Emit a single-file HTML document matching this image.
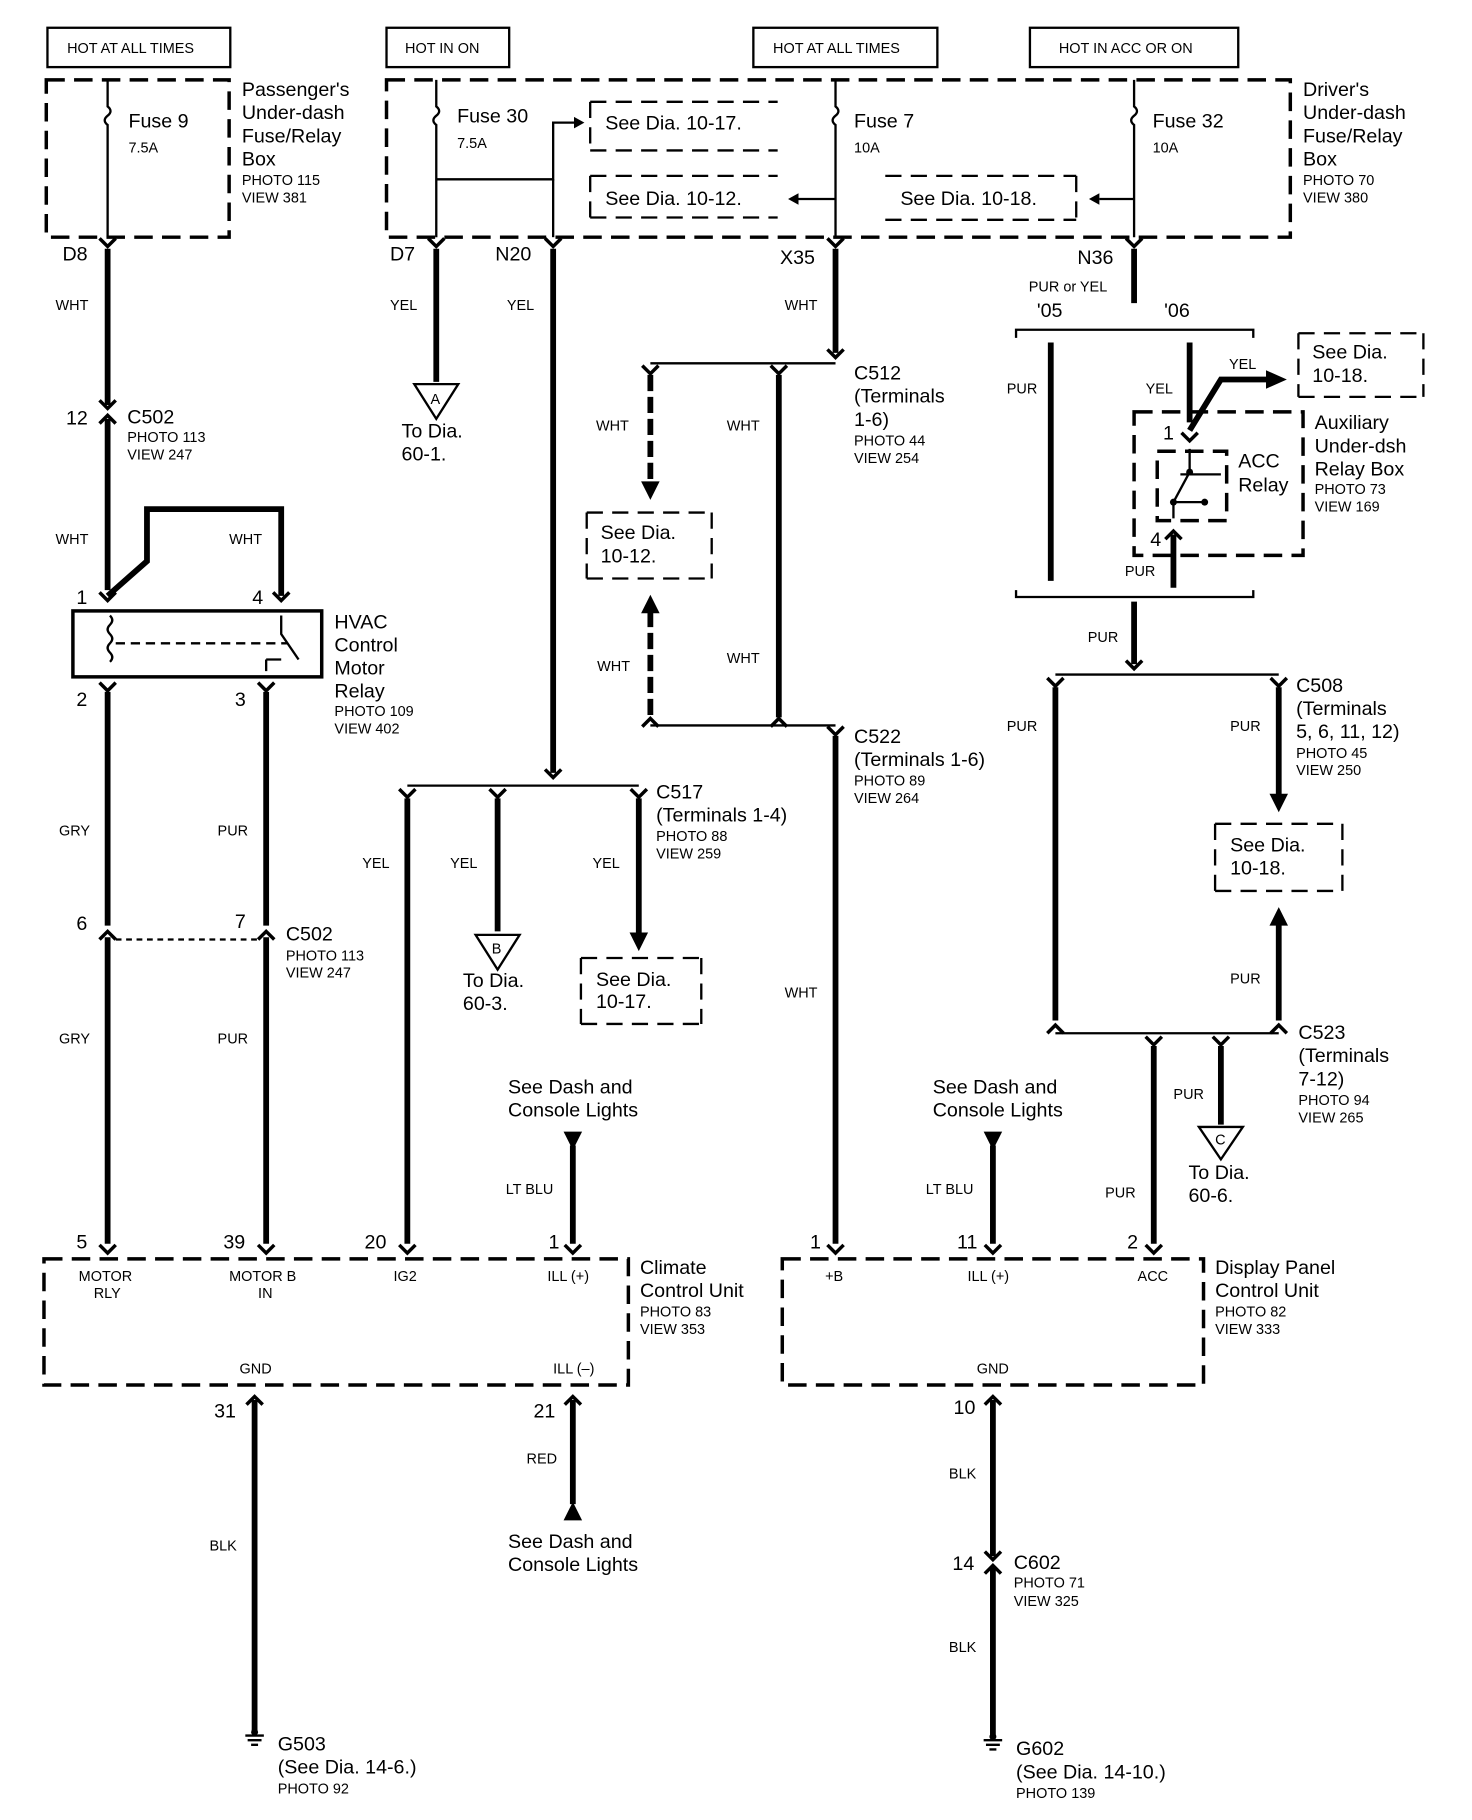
<!DOCTYPE html>
<html><head><meta charset="utf-8"><style>
html,body{margin:0;padding:0;background:#fff}
svg{display:block}
text{font-family:"Liberation Sans",Arial,sans-serif;fill:#000}
.b{font-size:17px}.s{font-size:12.5px}.w{font-size:12.5px}
.tk{stroke:#000;stroke-width:5;fill:none}
.tn{stroke:#000;stroke-width:2;fill:none}
.dsh{stroke:#000;stroke-width:3;fill:none;stroke-dasharray:16 8}
.dsh2{stroke:#000;stroke-width:2;fill:none;stroke-dasharray:14 8}
</style></head><body>
<svg width="1472" height="1820" viewBox="0 0 1272 1573" preserveAspectRatio="none" xmlns="http://www.w3.org/2000/svg">
<defs>
<path id="cf" d="M-7,-6 L0,1 L7,-6" stroke="#000" stroke-width="3" fill="none"/>
<path id="cm" d="M-7,6 L0,-1 L7,6" stroke="#000" stroke-width="3" fill="none"/>
<polygon id="ad" points="-8,-14 8,-14 0,2" fill="#000"/>
<polygon id="au" points="-8,14 8,14 0,-2" fill="#000"/>
</defs>
<!-- top labels -->
<g class="tn"><rect x="41" y="24" width="158" height="34"/><rect x="334" y="24" width="106" height="34"/><rect x="651" y="24" width="159" height="34"/><rect x="890" y="24" width="180" height="34"/></g>
<text class="s" x="58" y="46">HOT AT ALL TIMES</text><text class="s" x="350" y="46">HOT IN ON</text>
<text class="s" x="668" y="46">HOT AT ALL TIMES</text><text class="s" x="915" y="46">HOT IN ACC OR ON</text>
<!-- fuse boxes -->
<rect class="dsh" x="40" y="69" width="158" height="136"/>
<rect class="dsh" x="334" y="69" width="781" height="136"/>
<text class="b" x="209" y="83">Passenger's</text><text class="b" x="209" y="103">Under-dash</text><text class="b" x="209" y="123">Fuse/Relay</text><text class="b" x="209" y="143">Box</text>
<text class="s" x="209" y="160">PHOTO 115</text><text class="s" x="209" y="175">VIEW 381</text>
<text class="b" x="1126" y="83">Driver's</text><text class="b" x="1126" y="103">Under-dash</text><text class="b" x="1126" y="123">Fuse/Relay</text><text class="b" x="1126" y="143">Box</text>
<text class="s" x="1126" y="160">PHOTO 70</text><text class="s" x="1126" y="175">VIEW 380</text>
<!-- fuses -->
<g class="tn">
<path d="M93,69V92 q5,4 0,8 q-5,4 0,8 V205"/><path d="M377,69V92 q5,4 0,8 q-5,4 0,8 V205"/>
<path d="M722,69V92 q5,4 0,8 q-5,4 0,8 V205"/><path d="M980,69V92 q5,4 0,8 q-5,4 0,8 V205"/>
<path d="M377,155H478V106H496"/><path d="M478,155V205"/>
<path d="M722,172H690"/><path d="M980,172H950"/>
</g>
<polygon points="496,101 505,106 496,111"/><polygon points="690,167 681,172 690,177"/><polygon points="950,167 941,172 950,177"/>
<text class="b" x="111" y="110">Fuse 9</text><text class="s" x="111" y="132">7.5A</text>
<text class="b" x="395" y="106">Fuse 30</text><text class="s" x="395" y="128">7.5A</text>
<text class="b" x="738" y="110">Fuse 7</text><text class="s" x="738" y="132">10A</text>
<text class="b" x="996" y="110">Fuse 32</text><text class="s" x="996" y="132">10A</text>
<path class="dsh2" d="M510,88H672M510,130H672M510,88V130"/><text class="b" x="523" y="112">See Dia.  10-17.</text>
<path class="dsh2" d="M510,152H672M510,188H672M510,152V188"/><text class="b" x="523" y="177">See Dia.  10-12.</text>
<path class="dsh2" d="M765,152H930M765,190H930M930,152V190"/><text class="b" x="778" y="177">See Dia.  10-18.</text>
<!-- connectors top -->
<use href="#cf" x="93" y="212"/><use href="#cf" x="377" y="212"/><use href="#cf" x="478" y="212"/><use href="#cf" x="722" y="212"/><use href="#cf" x="980" y="212"/>
<text class="b" x="54" y="225">D8</text><text class="b" x="337" y="225">D7</text><text class="b" x="428" y="225">N20</text><text class="b" x="674" y="228">X35</text><text class="b" x="931" y="228">N36</text>
<!-- left wire -->
<path class="tk" d="M93,215V350M93,362V510"/><use href="#cf" x="93" y="352"/><use href="#cm" x="93" y="360"/>
<text class="b" x="57" y="367">12</text><text class="b" x="110" y="366">C502</text><text class="s" x="110" y="382">PHOTO 113</text><text class="s" x="110" y="397">VIEW 247</text>
<text class="w" x="48" y="268">WHT</text><text class="w" x="48" y="470">WHT</text><text class="w" x="198" y="470">WHT</text>
<path class="tk" d="M93,515L127,485V440H243V515"/>
<use href="#cf" x="93" y="518"/><use href="#cf" x="243" y="518"/>
<text class="b" x="66" y="522">1</text><text class="b" x="218" y="522">4</text>
<rect x="63" y="528" width="215" height="57" fill="none" stroke="#000" stroke-width="3"/>
<g class="tn"><path d="M95,532 q4,4 0,8 q-4,4 0,8 q4,4 0,8 q-4,4 0,8 q4,4 0,8"/><path d="M243,532V548L258,570M230,570H243M230,570V580" /><path d="M100,556H248" stroke-dasharray="8 5"/></g>
<text class="b" x="289" y="543">HVAC</text><text class="b" x="289" y="563">Control</text><text class="b" x="289" y="583">Motor</text><text class="b" x="289" y="603">Relay</text>
<text class="s" x="289" y="619">PHOTO 109</text><text class="s" x="289" y="634">VIEW 402</text>
<use href="#cf" x="93" y="596"/><use href="#cf" x="230" y="596"/>
<text class="b" x="66" y="610">2</text><text class="b" x="203" y="610">3</text>
<path class="tk" d="M93,598V800M93,810V1075M230,598V800M230,810V1075"/>
<use href="#cm" x="93" y="806"/><use href="#cm" x="230" y="806"/>
<path class="tn" d="M100,812H224" stroke-dasharray="5 4"/>
<text class="b" x="66" y="804">6</text><text class="b" x="203" y="802">7</text>
<text class="b" x="247" y="813">C502</text><text class="s" x="247" y="830">PHOTO 113</text><text class="s" x="247" y="845">VIEW 247</text>
<text class="w" x="51" y="722">GRY</text><text class="w" x="188" y="722">PUR</text><text class="w" x="51" y="902">GRY</text><text class="w" x="188" y="902">PUR</text>
<!-- D7 -->
<path class="tk" d="M377,215V330"/><polygon points="358,332 396,332 377,362" fill="none" stroke="#000" stroke-width="2"/>
<text class="s" x="372" y="349">A</text><text class="w" x="337" y="268">YEL</text>
<text class="b" x="347" y="378">To Dia.</text><text class="b" x="347" y="398">60-1.</text>
<!-- N20 -->
<path class="tk" d="M478,215V668"/><text class="w" x="438" y="268">YEL</text>
<use href="#cf" x="478" y="671"/>
<path class="tn" d="M352,679H552" stroke-width="3"/>
<use href="#cf" x="352" y="688"/><use href="#cf" x="430" y="688"/><use href="#cf" x="552" y="688"/>
<path class="tk" d="M352,690V1075M430,690V805M552,690V808"/>
<use href="#ad" x="552" y="820"/>
<polygon points="411,808 449,808 430,838" fill="none" stroke="#000" stroke-width="2"/><text class="s" x="425" y="824">B</text>
<text class="b" x="400" y="853">To Dia.</text><text class="b" x="400" y="873">60-3.</text>
<text class="w" x="313" y="750">YEL</text><text class="w" x="389" y="750">YEL</text><text class="w" x="512" y="750">YEL</text>
<text class="b" x="567" y="690">C517</text><text class="b" x="567" y="710">(Terminals 1-4)</text><text class="s" x="567" y="727">PHOTO 88</text><text class="s" x="567" y="742">VIEW 259</text>
<path class="dsh2" d="M502,828H606M502,885H606M502,828V885M606,828V885"/><text class="b" x="515" y="852">See Dia.</text><text class="b" x="515" y="871">10-17.</text>
<!-- X35 -->
<path class="tk" d="M722,215V305"/><text class="w" x="678" y="268">WHT</text>
<use href="#cf" x="722" y="308"/>
<path class="tn" d="M562,314H722" stroke-width="3"/>
<use href="#cf" x="562" y="322"/><use href="#cf" x="673" y="322"/>
<path class="tk" d="M562,324V418" stroke-dasharray="14 5"/><use href="#ad" x="562" y="430"/>
<path class="tk" d="M673,324V620"/>
<text class="b" x="738" y="328">C512</text><text class="b" x="738" y="348">(Terminals</text><text class="b" x="738" y="368">1-6)</text><text class="s" x="738" y="385">PHOTO 44</text><text class="s" x="738" y="400">VIEW 254</text>
<text class="w" x="515" y="372">WHT</text><text class="w" x="628" y="372">WHT</text><text class="w" x="516" y="580">WHT</text><text class="w" x="628" y="573">WHT</text>
<path class="dsh2" d="M507,443H615M507,500H615M507,443V500M615,443V500"/><text class="b" x="519" y="466">See Dia.</text><text class="b" x="519" y="486">10-12.</text>
<use href="#au" x="562" y="516"/><path class="tk" d="M562,528V620" stroke-dasharray="14 5"/>
<use href="#cm" x="562" y="622"/><use href="#cm" x="673" y="622"/>
<path class="tn" d="M562,627H722" stroke-width="3"/>
<use href="#cf" x="722" y="634"/>
<path class="tk" d="M722,636V1075"/>
<text class="b" x="738" y="642">C522</text><text class="b" x="738" y="662">(Terminals 1-6)</text><text class="s" x="738" y="679">PHOTO 89</text><text class="s" x="738" y="694">VIEW 264</text>
<text class="w" x="678" y="862">WHT</text>
<!-- N36 -->
<path class="tk" d="M980,215V262"/>
<text class="s" x="889" y="252">PUR or YEL</text><text class="b" x="896" y="274">'05</text><text class="b" x="1006" y="274">'06</text>
<path class="tn" d="M878,292V285H1083V292M878,510V516H1083V510" stroke-width="4"/>
<path class="tk" d="M908,296V502M1028,296V365M1028,372L1055,328H1095"/>
<polygon points="1094,320 1112,328 1094,336"/>
<text class="w" x="870" y="340">PUR</text><text class="w" x="990" y="340">YEL</text><text class="w" x="1062" y="319">YEL</text>
<path class="dsh2" d="M1122,288H1230M1122,343H1230M1122,288V343M1230,288V343"/><text class="b" x="1134" y="310">See Dia.</text><text class="b" x="1134" y="330">10-18.</text>
<rect class="dsh" x="980" y="356" width="146" height="124"/>
<rect class="dsh" x="1000" y="390" width="60" height="60"/>
<use href="#cf" x="1028" y="380"/><text class="b" x="1005" y="380">1</text>
<g class="tn"><path d="M1028,388V408L1014,434V448M1014,434H1040M1020,410H1055"/></g>
<circle cx="1028" cy="408" r="3"/><circle cx="1014" cy="434" r="3"/><circle cx="1041" cy="434" r="3"/>
<text class="b" x="1070" y="404">ACC</text><text class="b" x="1070" y="425">Relay</text>
<text class="b" x="1136" y="371">Auxiliary</text><text class="b" x="1136" y="391">Under-dsh</text><text class="b" x="1136" y="411">Relay Box</text><text class="s" x="1136" y="427">PHOTO 73</text><text class="s" x="1136" y="442">VIEW 169</text>
<use href="#cm" x="1014" y="460"/><text class="b" x="994" y="472">4</text>
<path class="tk" d="M1014,462V508"/><text class="w" x="972" y="498">PUR</text>
<path class="tk" d="M980,520V574"/><text class="w" x="940" y="555">PUR</text>
<use href="#cf" x="980" y="577"/>
<path class="tn" d="M912,583H1105" stroke-width="3"/>
<use href="#cf" x="912" y="592"/><use href="#cf" x="1105" y="592"/>
<path class="tk" d="M912,594V882M1105,594V688"/><use href="#ad" x="1105" y="700"/>
<text class="w" x="870" y="632">PUR</text><text class="w" x="1063" y="632">PUR</text><text class="w" x="1063" y="850">PUR</text>
<text class="b" x="1120" y="598">C508</text><text class="b" x="1120" y="618">(Terminals</text><text class="b" x="1120" y="638">5, 6, 11, 12)</text><text class="s" x="1120" y="655">PHOTO 45</text><text class="s" x="1120" y="670">VIEW 250</text>
<path class="dsh2" d="M1050,712H1160M1050,770H1160M1050,712V770M1160,712V770"/><text class="b" x="1063" y="736">See Dia.</text><text class="b" x="1063" y="756">10-18.</text>
<use href="#au" x="1105" y="786"/><path class="tk" d="M1105,798V882"/>
<use href="#cm" x="912" y="887"/><use href="#cm" x="1105" y="887"/>
<path class="tn" d="M912,893H1105" stroke-width="3"/>
<use href="#cf" x="997" y="902"/><use href="#cf" x="1055" y="902"/>
<path class="tk" d="M997,904V1075M1055,904V972"/>
<polygon points="1036,974 1074,974 1055,1002" fill="none" stroke="#000" stroke-width="2"/><text class="s" x="1050" y="989">C</text>
<text class="b" x="1027" y="1019">To Dia.</text><text class="b" x="1027" y="1039">60-6.</text>
<text class="w" x="1014" y="950">PUR</text><text class="w" x="955" y="1035">PUR</text>
<text class="b" x="1122" y="898">C523</text><text class="b" x="1122" y="918">(Terminals</text><text class="b" x="1122" y="938">7-12)</text><text class="s" x="1122" y="955">PHOTO 94</text><text class="s" x="1122" y="970">VIEW 265</text>
<!-- LT BLU -->
<text class="b" x="439" y="945">See Dash and</text><text class="b" x="439" y="965">Console Lights</text>
<use href="#ad" x="495" y="992"/><path class="tk" d="M495,990V1075"/><text class="w" x="437" y="1032">LT BLU</text>
<text class="b" x="806" y="945">See Dash and</text><text class="b" x="806" y="965">Console Lights</text>
<use href="#ad" x="858" y="992"/><path class="tk" d="M858,990V1075"/><text class="w" x="800" y="1032">LT BLU</text>
<!-- units -->
<use href="#cf" x="93" y="1082"/><use href="#cf" x="230" y="1082"/><use href="#cf" x="352" y="1082"/><use href="#cf" x="495" y="1082"/>
<use href="#cf" x="722" y="1082"/><use href="#cf" x="858" y="1082"/><use href="#cf" x="997" y="1082"/>
<text class="b" x="66" y="1079">5</text><text class="b" x="193" y="1079">39</text><text class="b" x="315" y="1079">20</text><text class="b" x="474" y="1079">1</text>
<text class="b" x="700" y="1079">1</text><text class="b" x="827" y="1079">11</text><text class="b" x="974" y="1079">2</text>
<rect class="dsh" x="38" y="1088" width="505" height="109"/>
<rect class="dsh" x="676" y="1088" width="364" height="109"/>
<text class="s" x="68" y="1107">MOTOR</text><text class="s" x="81" y="1122">RLY</text>
<text class="s" x="198" y="1107">MOTOR B</text><text class="s" x="223" y="1122">IN</text>
<text class="s" x="340" y="1107">IG2</text><text class="s" x="473" y="1107">ILL (+)</text>
<text class="s" x="207" y="1187">GND</text><text class="s" x="478" y="1187">ILL (–)</text>
<text class="s" x="713" y="1107">+B</text><text class="s" x="836" y="1107">ILL (+)</text><text class="s" x="983" y="1107">ACC</text><text class="s" x="844" y="1187">GND</text>
<text class="b" x="553" y="1101">Climate</text><text class="b" x="553" y="1121">Control Unit</text><text class="s" x="553" y="1138">PHOTO 83</text><text class="s" x="553" y="1153">VIEW 353</text>
<text class="b" x="1050" y="1101">Display Panel</text><text class="b" x="1050" y="1121">Control Unit</text><text class="s" x="1050" y="1138">PHOTO 82</text><text class="s" x="1050" y="1153">VIEW 333</text>
<!-- bottom wires -->
<use href="#cm" x="220" y="1208"/><use href="#cm" x="495" y="1208"/><use href="#cm" x="858" y="1208"/>
<text class="b" x="185" y="1225">31</text><text class="b" x="461" y="1225">21</text><text class="b" x="824" y="1222">10</text>
<path class="tk" d="M220,1210V1498"/><text class="w" x="181" y="1340">BLK</text>
<path class="tn" d="M212,1500H228M214,1504H226M217,1508H223"/><circle cx="220" cy="1497" r="3"/>
<text class="b" x="240" y="1513">G503</text><text class="b" x="240" y="1533">(See Dia.  14-6.)</text><text class="s" x="240" y="1550">PHOTO 92</text>
<path class="tk" d="M495,1210V1300"/><use href="#au" x="495" y="1300"/><text class="w" x="455" y="1265">RED</text>
<text class="b" x="439" y="1338">See Dash and</text><text class="b" x="439" y="1358">Console Lights</text>
<path class="tk" d="M858,1210V1345M858,1355V1500"/><use href="#cf" x="858" y="1347"/><use href="#cm" x="858" y="1354"/>
<text class="w" x="820" y="1278">BLK</text><text class="w" x="820" y="1428">BLK</text>
<text class="b" x="823" y="1357">14</text><text class="b" x="876" y="1356">C602</text><text class="s" x="876" y="1372">PHOTO 71</text><text class="s" x="876" y="1388">VIEW 325</text>
<path class="tn" d="M850,1504H866M852,1508H864M855,1512H861"/><circle cx="858" cy="1501" r="3"/>
<text class="b" x="878" y="1517">G602</text><text class="b" x="878" y="1537">(See Dia.  14-10.)</text><text class="s" x="878" y="1554">PHOTO 139</text>
</svg>
</body></html>
